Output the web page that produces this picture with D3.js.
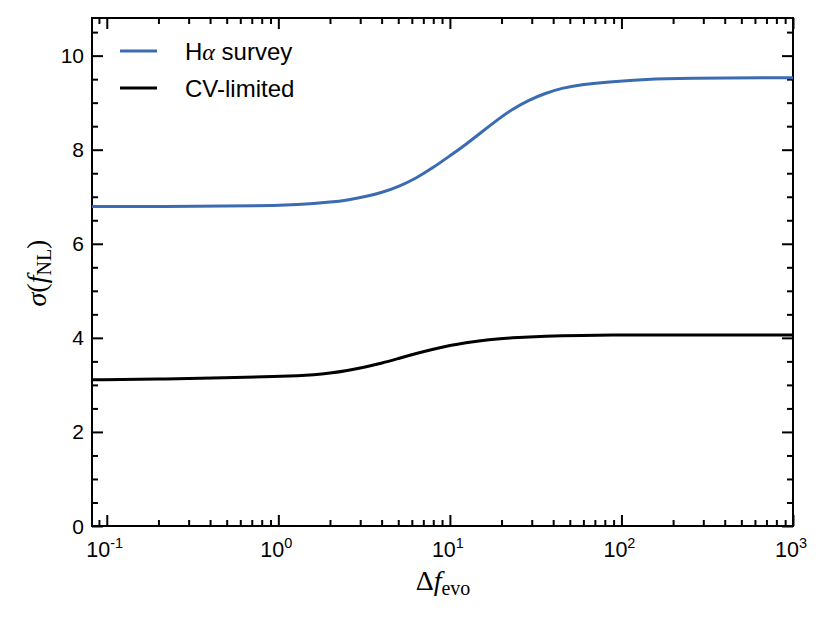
<!DOCTYPE html>
<html>
<head>
<meta charset="utf-8">
<script src="https://cdn.jsdelivr.net/npm/d3@7"></script>
<style>
body { margin: 0; background: #fff; }
.tick line { stroke: #000; stroke-width: 2; }
</style>
</head>
<body>
<div id="chart"></div>
<script>
// data
var deltaF = [0.082, 0.2, 0.5, 1, 1.3, 1.6, 2, 2.5, 3.3, 4, 5, 6.4, 8, 10, 12.5, 15, 19, 23, 29, 36, 45, 57, 89, 140, 220, 1000];
var sigmaHalpha = [6.79, 6.79, 6.80, 6.815, 6.835, 6.855, 6.885, 6.925, 7.01, 7.09, 7.21, 7.40, 7.62, 7.87, 8.12, 8.35, 8.64, 8.86, 9.06, 9.20, 9.31, 9.38, 9.45, 9.50, 9.52, 9.53];
var sigmaCV = [3.11, 3.12, 3.15, 3.18, 3.195, 3.215, 3.25, 3.30, 3.39, 3.46, 3.56, 3.67, 3.76, 3.84, 3.90, 3.94, 3.98, 4.00, 4.02, 4.035, 4.045, 4.05, 4.06, 4.06, 4.06, 4.06];
var seriesNames = ["H\u03b1 survey", "CV-limited"];
var xMajor = [0.1, 1, 10, 100, 1000];
var xExp = ["-1", "0", "1", "2", "3"];
var yMajor = [0, 2, 4, 6, 8, 10];

var w = 830, h = 623;
var mLeft = 92, mRight = 793, mTop = 18, mBottom = 526;

var svg = d3.select("#chart").append("svg")
	.attr("width", w)
	.attr("height", h);

var x = d3.scaleLog().domain([0.082, 1000]).range([mLeft, mRight]);
var y = d3.scaleLinear().domain([0, 10.8]).range([mBottom, mTop]);

// minor ticks
var xMinor = [0.09];
[0.1, 1, 10, 100].forEach(function (d) {
	for (var k = 2; k <= 9; k++) xMinor.push(d * k);
});
var yMinor = d3.range(0.5, 10.8, 0.5).filter(function (d) { return d % 2 != 0; });

function addAxis(axis, tr) {
	var g = svg.append("g").attr("transform", tr).call(axis);
	g.select(".domain").remove();
	return g;
}

// ticks point inward on all four sides
addAxis(d3.axisBottom(x).tickValues(xMajor).tickSize(-11).tickFormat(""), "translate(0," + mBottom + ")");
addAxis(d3.axisBottom(x).tickValues(xMinor).tickSize(-6).tickFormat(""), "translate(0," + mBottom + ")");
addAxis(d3.axisTop(x).tickValues(xMajor).tickSize(-11).tickFormat(""), "translate(0," + mTop + ")");
addAxis(d3.axisTop(x).tickValues(xMinor).tickSize(-6).tickFormat(""), "translate(0," + mTop + ")");
addAxis(d3.axisLeft(y).tickValues(yMajor).tickSize(-11).tickFormat(""), "translate(" + mLeft + ",0)");
addAxis(d3.axisLeft(y).tickValues(yMinor).tickSize(-6).tickFormat(""), "translate(" + mLeft + ",0)");
addAxis(d3.axisRight(y).tickValues(yMajor).tickSize(-11).tickFormat(""), "translate(" + mRight + ",0)");
addAxis(d3.axisRight(y).tickValues(yMinor).tickSize(-6).tickFormat(""), "translate(" + mRight + ",0)");

// frame
svg.append("rect")
	.attr("x", mLeft).attr("y", mTop)
	.attr("width", mRight - mLeft).attr("height", mBottom - mTop)
	.attr("fill", "none").attr("stroke", "#000").attr("stroke-width", 2);

// y tick labels
svg.selectAll(".ylab").data(yMajor).enter()
	.append("text")
	.attr("x", mLeft - 8)
	.attr("y", function (d) { return y(d) + 7.5; })
	.attr("text-anchor", "end")
	.style("font-family", "Liberation Sans, Arial, sans-serif")
	.style("font-size", "21px")
	.text(function (d) { return d; });

// x tick labels with exponents
var xl = svg.selectAll(".xlab").data(xMajor).enter()
	.append("text")
	.attr("x", function (d) { return x(d) - 2; })
	.attr("y", 557)
	.attr("text-anchor", "middle")
	.style("font-family", "Liberation Sans, Arial, sans-serif")
	.style("font-size", "21.5px");
xl.append("tspan").text("10");
xl.append("tspan")
	.attr("dy", -9)
	.style("font-size", "14.5px")
	.text(function (d, i) { return xExp[i]; });

// curves (basis spline smooths the read-off points)
var line = d3.line()
	.x(function (d) { return x(d[0]); })
	.y(function (d) { return y(d[1]); })
	.curve(d3.curveBasis);

var colours = ["#3b6bb0", "#000000"];
var series = [sigmaHalpha, sigmaCV];

series.forEach(function (s, i) {
	svg.append("path")
		.datum(deltaF.map(function (d, j) { return [d, s[j]]; }))
		.attr("d", line)
		.attr("fill", "none")
		.attr("stroke", colours[i])
		.attr("stroke-width", 3);
});

// legend
var legY = [51, 88];
seriesNames.forEach(function (name, i) {
	svg.append("line")
		.attr("x1", 120).attr("x2", 157)
		.attr("y1", legY[i]).attr("y2", legY[i])
		.attr("stroke", colours[i]).attr("stroke-width", 3);
	var t = svg.append("text")
		.attr("x", 185)
		.attr("y", legY[i] + 8.7)
		.style("font-family", "Liberation Sans, Arial, sans-serif")
		.style("font-size", "24px");
	if (i == 0) {
		t.append("tspan").text("H");
		t.append("tspan")
			.style("font-family", "Liberation Serif, serif")
			.style("font-style", "italic")
			.text("\u03b1");
		t.append("tspan").text(" survey");
	}
	else {
		t.text(name);
	}
});

// axis titles
var xt = svg.append("text")
	.attr("x", 443)
	.attr("y", 590)
	.attr("text-anchor", "middle")
	.style("font-family", "Liberation Serif, serif")
	.style("font-size", "28px");
xt.append("tspan").text("\u0394");
xt.append("tspan").style("font-style", "italic").text("f");
xt.append("tspan").attr("dy", 5).style("font-size", "20px").text("evo");

var yt = svg.append("text")
	.attr("transform", "translate(46,273) rotate(-90)")
	.attr("text-anchor", "middle")
	.style("font-family", "Liberation Serif, serif")
	.style("font-size", "28px");
yt.append("tspan").style("font-style", "italic").text("\u03c3");
yt.append("tspan").text("(");
yt.append("tspan").style("font-style", "italic").text("f");
yt.append("tspan").attr("dy", 5).style("font-size", "20px").text("NL");
yt.append("tspan").attr("dy", -5).text(")");
</script>
</body>
</html>
